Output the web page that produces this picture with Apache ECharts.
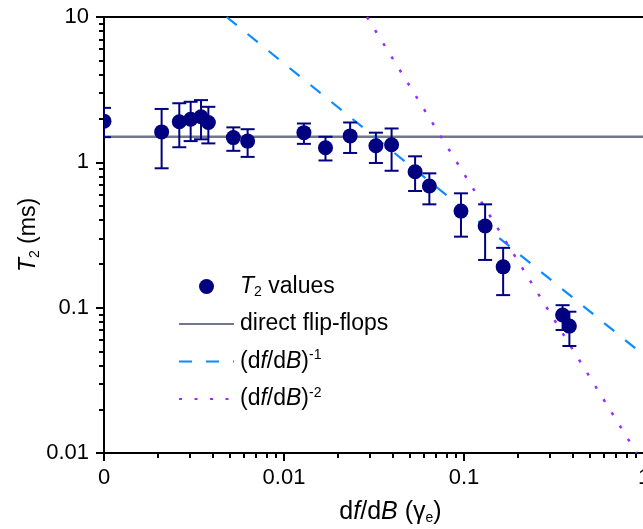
<!DOCTYPE html>
<html><head><meta charset="utf-8">
<script src="https://cdn.jsdelivr.net/npm/echarts@6/dist/echarts.min.js"></script>
<style>html,body{margin:0;padding:0;background:#fff}#c{width:643px;height:529px}</style>
</head><body><div id="c"></div>
<script>
// ---- data ----
const xVals  = [0.001, 0.00209, 0.00262, 0.00303, 0.00346, 0.00380, 0.00523, 0.00628, 0.0129, 0.0170, 0.0233, 0.0324, 0.0396, 0.0535, 0.0642, 0.0962, 0.131, 0.165, 0.353, 0.385];
const yVals  = [1.92, 1.62, 1.90, 1.98, 2.06, 1.88, 1.48, 1.40, 1.60, 1.26, 1.52, 1.30, 1.32, 0.862, 0.687, 0.462, 0.365, 0.191, 0.089, 0.0747];
const yUpper = [2.37, 2.33, 2.55, 2.61, 2.68, 2.41, 1.74, 1.69, 1.85, 1.50, 1.88, 1.60, 1.71, 1.10, 0.84, 0.612, 0.514, 0.258, 0.104, 0.0938];
const yLower = [1.49, 0.91, 1.27, 1.40, 1.44, 1.35, 1.20, 1.09, 1.34, 1.03, 1.16, 0.99, 0.875, 0.635, 0.514, 0.308, 0.213, 0.122, 0.0702, 0.0545];
const flipFlopX = [0.001, 1];
const flipFlopY = [1.5, 1.5];
const invX  = [0.0048, 1];
const invY  = [10, 0.047];
const inv2X = [0.0289, 0.911];
const inv2Y = [10, 0.01];
const xMajor = [0.001, 0.01, 0.1, 1];
const xMajorLabels = ['0', '0.01', '0.1', '1'];
const yMajor = [0.01, 0.1, 1, 10];
const yMajorLabels = ['0.01', '0.1', '1', '10'];
const seriesNames = ['T2 values', 'direct flip-flops', '(df/dB)^-1', '(df/dB)^-2'];

// minor ticks (2..9 inside each decade)
function minors(lo, hi) {
  const out = [];
  for (let d = lo; d < hi * 0.999; d *= 10) for (let k = 2; k <= 9; k++) out.push(+(k * d).toPrecision(3));
  return out;
}
const xMinor = minors(0.001, 1);
const yMinor = minors(0.01, 10);

const FONT = '"Liberation Sans", Arial, sans-serif';
const navy = '#000080';
const rows = xVals.map((x, i) => [x, yVals[i], yUpper[i], yLower[i]]);
const zip = (a, b) => a.map((v, i) => [v, b[i]]);

function mkRich(fs) {
  return {
    n: { fontFamily: FONT, fontSize: fs, color: '#000', lineHeight: 26 },
    i: { fontFamily: FONT, fontSize: fs, color: '#000', fontStyle: 'italic', lineHeight: 26 },
    sub: { fontFamily: FONT, fontSize: 14, color: '#000', lineHeight: 12, verticalAlign: 'bottom' },
    sup: { fontFamily: FONT, fontSize: 14, color: '#000', lineHeight: 12, verticalAlign: 'top' }
  };
}
const legendText = {
  'T2 values': '{i|T}{sub|2}{n| values}',
  'direct flip-flops': '{n|direct flip-flops}',
  '(df/dB)^-1': '{n|(d}{i|f}{n|/d}{i|B}{n|)}{sup|-1}',
  '(df/dB)^-2': '{n|(d}{i|f}{n|/d}{i|B}{n|)}{sup|-2}'
};

function logAxisBase(extra) {
  return Object.assign({ type: 'log', logBase: 10, splitLine: { show: false }, minorTick: { show: false } }, extra);
}
const hideSym = { opacity: 0, color: 'transparent', borderWidth: 0 };

const chart = echarts.init(document.getElementById('c'), null, { renderer: 'canvas' });
chart.setOption({
  animation: false,
  backgroundColor: '#fff',
  grid: { left: 104, top: 17, width: 540, height: 436, outerBoundsMode: 'none', containLabel: false },
  legend: {
    orient: 'vertical', left: 178, top: 275, itemWidth: 55, itemHeight: 15, itemGap: 13, padding: 0,
    data: [
      { name: seriesNames[0], icon: 'circle', itemStyle: { color: navy } },
      { name: seriesNames[1], itemStyle: hideSym },
      { name: seriesNames[2], itemStyle: hideSym },
      { name: seriesNames[3], itemStyle: hideSym }
    ],
    formatter: n => legendText[n],
    textStyle: { rich: mkRich(23), fontFamily: FONT, fontSize: 23, padding: [0, 0, 0, 1] },
    selectedMode: false
  },
  xAxis: [
    logAxisBase({
      min: 0.001, max: 1, position: 'bottom',
      axisLine: { lineStyle: { color: '#000', width: 2 } },
      axisTick: { length: 8, lineStyle: { width: 2, color: '#000' }, customValues: xMajor },
      axisLabel: { customValues: xMajor, margin: 14, color: '#000', fontFamily: FONT, fontSize: 22,
        formatter: v => { const i = xMajor.findIndex(t => Math.abs(Math.log10(t) - Math.log10(v)) < 1e-6); return i >= 0 ? xMajorLabels[i] : ''; } },
      name: '{n|d}{i|f}{n|/d}{i|B}{n| (γ}{sub|e}{n|)}',
      nameLocation: 'middle', nameGap: 46,
      nameTextStyle: { rich: mkRich(25), padding: [0, 0, 0, 33] }
    }),
    logAxisBase({
      min: 0.001, max: 1, position: 'bottom',
      axisLine: { show: false },
      axisTick: { length: 5, lineStyle: { width: 2, color: '#000' }, customValues: xMinor },
      axisLabel: { show: false }
    }),
    logAxisBase({
      min: 0.001, max: 1, position: 'top',
      axisLine: { lineStyle: { color: '#000', width: 2 } },
      axisTick: { show: false }, axisLabel: { show: false }
    })
  ],
  yAxis: [
    logAxisBase({
      min: 0.01, max: 10, position: 'left',
      axisLine: { lineStyle: { color: '#000', width: 2 } },
      axisTick: { length: 8, lineStyle: { width: 2, color: '#000' }, customValues: yMajor },
      axisLabel: { customValues: yMajor, margin: 15, color: '#000', fontFamily: FONT, fontSize: 22,
        formatter: v => { const i = yMajor.findIndex(t => Math.abs(Math.log10(t) - Math.log10(v)) < 1e-6); return i >= 0 ? yMajorLabels[i] : ''; } },
      name: '{i|T}{sub|2}{n| (ms)}',
      nameLocation: 'middle', nameGap: 62, nameMoveOverlap: false,
      nameTextStyle: { rich: mkRich(23), padding: [18, 0, 0, 0] }
    }),
    logAxisBase({
      min: 0.01, max: 10, position: 'left',
      axisLine: { show: false },
      axisTick: { length: 5, lineStyle: { width: 2, color: '#000' }, customValues: yMinor },
      axisLabel: { show: false }
    })
  ],
  series: [
    { name: seriesNames[1], type: 'line', data: zip(flipFlopX, flipFlopY), symbol: 'none', z: 1,
      lineStyle: { color: '#70768c', width: 2.5 }, itemStyle: { color: '#70768c' }, clip: true },
    { name: seriesNames[2], type: 'line', data: zip(invX, invY), symbol: 'none', z: 1,
      lineStyle: { color: '#0a8cff', width: 2.2, type: [13, 14] }, itemStyle: { color: '#0a8cff' }, clip: true },
    { name: seriesNames[3], type: 'line', data: zip(inv2X, inv2Y), symbol: 'none', z: 1,
      lineStyle: { color: '#9a2cff', width: 2.5, type: [3, 12.5] }, itemStyle: { color: '#9a2cff' }, clip: true },
    { name: seriesNames[0], type: 'custom', data: rows, clip: true, z: 4, itemStyle: { color: navy },
      encode: { x: 0, y: 1 },
      renderItem: function (params, api) {
        const x = api.value(0);
        const c = api.coord([x, api.value(1)]);
        const a = api.coord([x, api.value(2)]);
        const b = api.coord([x, api.value(3)]);
        const w = 7;
        const st = { stroke: navy, lineWidth: 2 };
        return { type: 'group', children: [
          { type: 'line', shape: { x1: a[0], y1: a[1], x2: b[0], y2: b[1] }, style: st },
          { type: 'line', shape: { x1: a[0] - w, y1: a[1], x2: a[0] + w, y2: a[1] }, style: st },
          { type: 'line', shape: { x1: b[0] - w, y1: b[1], x2: b[0] + w, y2: b[1] }, style: st },
          { type: 'circle', shape: { cx: c[0], cy: c[1], r: 7.5 }, style: { fill: navy } }
        ] };
      } }
  ]
});
</script></body></html>
